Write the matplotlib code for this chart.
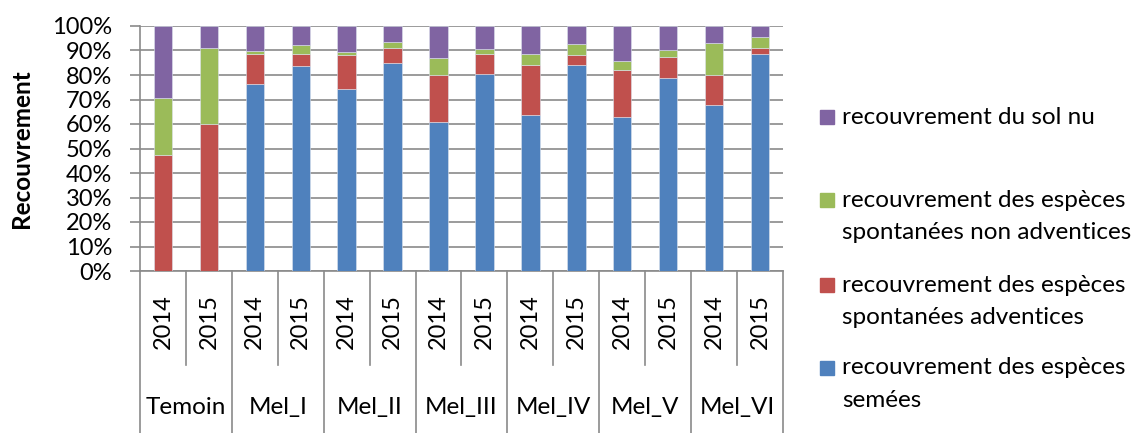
import matplotlib
matplotlib.use('Agg')
import matplotlib.pyplot as plt
from matplotlib.patches import Rectangle
import matplotlib.transforms as mtransforms

plt.rcParams['font.family'] = ['Lato', 'DejaVu Sans']

groups = ['Temoin', 'Mel_I', 'Mel_II', 'Mel_III', 'Mel_IV', 'Mel_V', 'Mel_VI']
years = ['2014', '2015']

# values (%), bar order: group x year
semees = [0, 0, 76.3, 83.5, 74.1, 85.1, 61.0, 80.5, 63.8, 83.9, 62.8, 78.9, 67.6, 88.4]
adventices = [47.4, 60.1, 12.3, 5.2, 14.2, 6.0, 19.2, 7.9, 20.4, 4.2, 19.1, 8.6, 12.4, 2.7]
non_adventices = [23.2, 30.8, 1.3, 3.5, 1.1, 2.4, 6.9, 2.2, 4.4, 4.5, 3.9, 2.6, 13.1, 4.5]
sol_nu = [100 - a - b - c for a, b, c in zip(semees, adventices, non_adventices)]

series = [
    ('recouvrement des espèces\nsemées', semees, '#4F81BD'),
    ('recouvrement des espèces\nspontanées adventices', adventices, '#C0504D'),
    ('recouvrement des espèces\nspontanées non adventices', non_adventices, '#9BBB59'),
    ('recouvrement du sol nu', sol_nu, '#8064A2'),
]

W, H = 1137, 433
GREY = '#8a8a8a'
fig = plt.figure(figsize=(W / 100, H / 100), dpi=100)
ax = fig.add_axes([140 / W, (H - 271) / H, 643 / W, 245 / H])

n = len(semees)
x = list(range(n))
bottom = [0] * n
for label, vals, color in series:
    ax.bar(x, vals, width=0.4, bottom=bottom, color=color,
           edgecolor='#dde3ee', linewidth=0.4, zorder=3)
    bottom = [b + v for b, v in zip(bottom, vals)]

ax.set_xlim(-0.5, n - 0.5)
ax.set_ylim(0, 100)
ax.set_yticks(range(0, 101, 10))
ax.set_yticklabels([f'{v}%' for v in range(0, 101, 10)], fontsize=17)
ax.yaxis.grid(True, color=GREY, linewidth=1.2, zorder=0)
ax.tick_params(axis='y', length=7, width=1.2, color=GREY, pad=13)
ax.set_xticks([])
for s in ['top', 'right']:
    ax.spines[s].set_visible(False)
for s in ['left', 'bottom']:
    ax.spines[s].set_color(GREY)
    ax.spines[s].set_linewidth(1.2)

fig.text(22 / W, (H - 149) / H, 'Recouvrement', rotation=90, fontsize=17.5,
         fontweight='bold', ha='center', va='center')

# category labels under the axis
trans = mtransforms.blended_transform_factory(ax.transData, ax.transAxes)
for i in x:
    ax.text(i, -0.208, years[i % 2], transform=trans, rotation=90,
            ha='center', va='center', fontsize=17)
for g, name in enumerate(groups):
    ax.text(2 * g + 0.5, -0.559, name, transform=trans,
            ha='center', va='center', fontsize=17.5)
for k in range(n + 1):
    xb = k - 0.5
    low = -0.665 if k % 2 == 0 else -0.384
    ax.plot([xb, xb], [0, low], transform=trans, color=GREY,
            linewidth=1.2, clip_on=False)

# legend drawn by hand, Excel style
legend_items = list(reversed(series))
legend_y = [117, 200, 285, 368]
for (label, vals, color), yy in zip(legend_items, legend_y):
    fig.patches.append(Rectangle((820 / W, (H - yy - 7) / H), 14 / W, 14 / H,
                                 transform=fig.transFigure, color=color))
    for j, line in enumerate(label.split('\n')):
        fig.text(842 / W, (H - yy - j * 32.5) / H, line, fontsize=17.5,
                 ha='left', va='center')

fig.savefig('out.png', dpi=100)
